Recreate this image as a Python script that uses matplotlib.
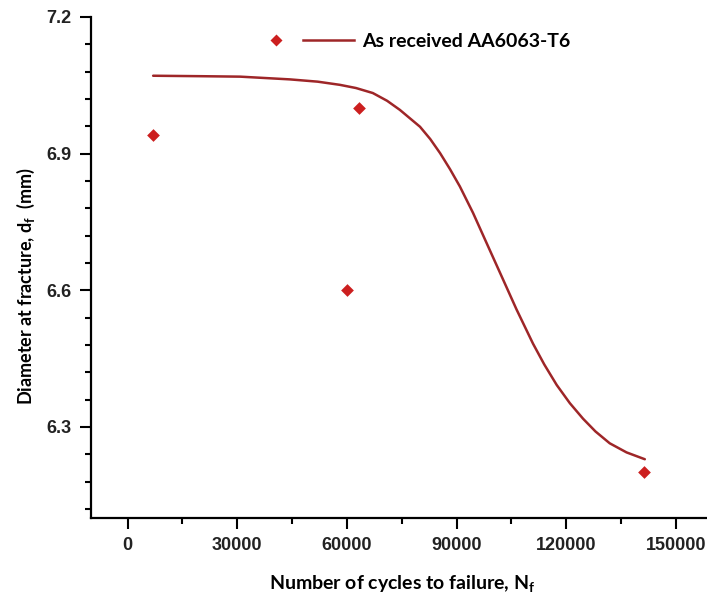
import matplotlib
matplotlib.use("Agg")
import matplotlib.pyplot as plt
from matplotlib.lines import Line2D
from matplotlib.ticker import AutoMinorLocator
from matplotlib.legend_handler import HandlerBase

# measured points
cycles = [7000, 60000, 63400, 141300]
diameter = [6.94, 6.60, 7.00, 6.20]

# fitted curve, read along its length
fit_cycles = [7000, 20000, 30800, 44400, 52000, 58100, 62500, 67100, 71000, 74500,
              80000, 82800, 85500, 88200, 90900, 94500, 98200, 102700, 106400,
              110900, 114000, 117400, 121000, 124600, 128000, 131900, 136500, 141500]
fit_diameter = [7.071, 7.070, 7.069, 7.063, 7.058, 7.051, 7.044, 7.033, 7.016, 6.996,
                6.959, 6.932, 6.901, 6.866, 6.828, 6.770, 6.704, 6.624, 6.558,
                6.483, 6.437, 6.392, 6.352, 6.318, 6.290, 6.264, 6.244, 6.229]

x_ticks = [0, 30000, 60000, 90000, 120000, 150000]
y_ticks = [6.3, 6.6, 6.9, 7.2]

LINE_C = '#9e2628'
PT_C = '#cc1f1f'


class DiamondLine(HandlerBase):
    # Origin-style key: a diamond, a gap, then a short line
    def create_artists(self, legend, orig, xd, yd, width, height, fontsize, trans):
        y = height / 2 - yd
        dot = Line2D([-xd + 0.12 * width], [y], marker='D', ms=6.5, color=PT_C,
                     mec='none', ls='none', transform=trans)
        seg = Line2D([-xd + 0.42 * width, -xd + width], [y, y], color=LINE_C, lw=1.8,
                     transform=trans)
        return [dot, seg]


plt.rcParams['font.family'] = ['Liberation Sans', 'DejaVu Sans']
plt.rcParams['mathtext.fontset'] = 'custom'
plt.rcParams['mathtext.bf'] = 'Lato:bold'
plt.rcParams['mathtext.rm'] = 'Lato:bold'

fig = plt.figure(figsize=(7.07, 5.96), dpi=100)
ax = fig.add_axes([0.1287, 0.1309, 0.879, 0.8406])

line, = ax.plot(fit_cycles, fit_diameter, color=LINE_C, lw=1.8,
                solid_joinstyle='round', solid_capstyle='round')
pts = ax.scatter(cycles, diameter, marker='D', s=42, color=PT_C, zorder=3, linewidths=0)

ax.set_xlim(-10000, 160000)
ax.set_ylim(6.1, 7.2)
ax.set_xticks(x_ticks)
ax.set_yticks(y_ticks)
ax.xaxis.set_minor_locator(AutoMinorLocator(2))
ax.yaxis.set_minor_locator(AutoMinorLocator(5))

for s in ['top', 'right']:
    ax.spines[s].set_visible(False)
for s in ['left', 'bottom']:
    ax.spines[s].set_linewidth(1.6)

ax.tick_params(which='major', direction='out', length=8, width=1.5, labelsize=13, pad=6)
ax.tick_params(which='minor', direction='out', length=4.5, width=1.5)
for lab in ax.get_xticklabels() + ax.get_yticklabels():
    lab.set_fontweight('bold')
    lab.set_color('#222222')

ax.set_xlabel(r'Number of cycles to failure, N$_\mathbf{f}$', family='Lato',
              fontweight='bold', fontsize=14, labelpad=14)
ax.set_ylabel(r'Diameter at fracture, d$_\mathbf{f}$  (mm)', family='Lato',
              fontweight='bold', fontsize=13)
ax.yaxis.set_label_coords(-0.087, 0.463)

ax.legend([line], ['As received AA6063-T6'],
          handler_map={Line2D: DiamondLine()},
          loc='center left', bbox_to_anchor=(0.35, 0.93), bbox_transform=fig.transFigure,
          frameon=False, handlelength=4.6, handletextpad=0.4,
          prop={'family': 'Lato', 'weight': 'bold', 'size': 14})

fig.savefig('out.png', dpi=100)
